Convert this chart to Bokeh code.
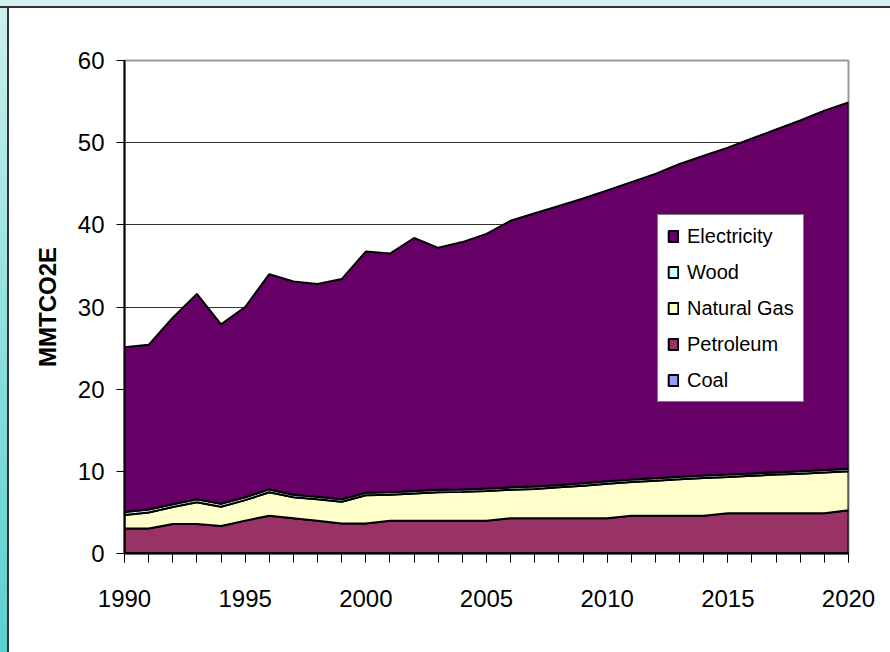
import numpy as np
from bokeh.plotting import figure
from bokeh.models import FixedTicker, Legend, LegendItem, GlobalInlineStyleSheet, Range1d
from bokeh.embed import file_html
from bokeh.resources import INLINE

years = list(range(1990, 2021))
coal = [0.05] * 31
petroleum = [3.0, 3.0, 3.55, 3.55, 3.3, 3.95, 4.55, 4.25, 3.95, 3.6, 3.6, 3.95, 3.95, 3.95, 3.95,
             3.95, 4.25, 4.25, 4.25, 4.25, 4.25, 4.55, 4.55, 4.55, 4.55, 4.85, 4.85, 4.85, 4.85, 4.85, 5.2]
natural_gas = [1.65, 1.95, 2.05, 2.65, 2.35, 2.5, 2.85, 2.55, 2.6, 2.65, 3.45, 3.15, 3.3, 3.45, 3.5,
               3.6, 3.45, 3.55, 3.75, 3.95, 4.2, 4.1, 4.25, 4.45, 4.6, 4.4, 4.55, 4.7, 4.8, 4.95, 4.75]
wood = [0.35, 0.35, 0.35, 0.35, 0.35, 0.35, 0.35, 0.3, 0.3, 0.3, 0.3, 0.3, 0.3, 0.3, 0.3,
        0.3, 0.3, 0.3, 0.3, 0.3, 0.3, 0.3, 0.3, 0.3, 0.3, 0.3, 0.3, 0.3, 0.3, 0.3, 0.3]
electricity = [20.05, 20.05, 22.7, 25.0, 21.85, 23.15, 26.2, 25.95, 25.9, 26.8, 29.35, 29.05, 30.8, 29.45, 30.1,
               31.0, 32.45, 33.25, 33.95, 34.65, 35.4, 36.2, 37.05, 38.05, 38.9, 39.8, 40.75, 41.7, 42.7, 43.75, 44.6]
y_ticks = [0, 10, 20, 30, 40, 50, 60]
x_ticks = [1990, 1995, 2000, 2005, 2010, 2015, 2020]

series = [("Coal", coal, "#9999FF"), ("Petroleum", petroleum, "#993366"),
          ("Natural Gas", natural_gas, "#FFFFCC"), ("Wood", wood, "#CCFFFF"),
          ("Electricity", electricity, "#660066")]

FONT = "Liberation Sans"

p = figure(width=881, height=644, output_backend="svg", toolbar_location=None,
           x_range=Range1d(1990, 2020), y_range=Range1d(0, 60),
           min_border_left=115, min_border_right=42, min_border_top=52, min_border_bottom=99)
p.background_fill_color = "white"
p.border_fill_color = "white"
p.outline_line_color = "#999999"
p.outline_line_width = 2

renderers = {}
base = np.zeros(len(years))
for name, vals, color in series:
    top = base + np.array(vals)
    xs = years + years[::-1]
    ys = list(top) + list(base[::-1])
    r = p.patch(xs, ys, fill_color=color, line_color="black", line_width=2)
    renderers[name] = r
    base = top

p.xgrid.visible = False
p.ygrid.grid_line_color = "#333333"
p.ygrid.grid_line_width = 1
p.ygrid.level = "underlay"

p.yaxis.ticker = FixedTicker(ticks=y_ticks)
p.xaxis.ticker = FixedTicker(ticks=x_ticks, minor_ticks=years)

for ax in (p.xaxis[0], p.yaxis[0]):
    ax.axis_line_color = "black"
    ax.axis_line_width = 2
    ax.major_tick_line_color = "black"
    ax.minor_tick_line_color = "black"
    ax.major_tick_in = 0
    ax.minor_tick_in = 0
    ax.major_label_text_font = FONT
    ax.major_label_text_font_size = "24px"
    ax.major_label_text_color = "black"

p.xaxis.major_tick_out = 9
p.xaxis.minor_tick_out = 9
p.xaxis.major_label_standoff = 27
p.yaxis.major_tick_out = 8
p.yaxis.minor_tick_line_color = None
p.yaxis.major_label_standoff = 12

p.yaxis.axis_label = "MMTCO2E"
p.yaxis.axis_label_text_font = "Liberation Sans"
p.yaxis.axis_label_text_font_style = "bold"
p.yaxis.axis_label_text_font_size = "24px"
p.yaxis.axis_label_text_color = "black"
p.yaxis.axis_label_standoff = 14

items = [LegendItem(label=name, renderers=[renderers[name]])
         for name in ["Electricity", "Wood", "Natural Gas", "Petroleum", "Coal"]]
legend = Legend(items=items, location=(533, 151))
legend.label_text_font = FONT
legend.label_text_font_size = "20px"
legend.label_text_color = "black"
legend.glyph_width = 12
legend.glyph_height = 14
legend.label_height = 24
legend.label_standoff = 8
legend.spacing = 12
legend.padding = 9
legend.margin = 0
legend.border_line_color = "black"
legend.border_line_width = 1
legend.background_fill_color = "white"
legend.background_fill_alpha = 1
p.add_layout(legend, "center")

css = """
html {
  background-color: #ffffff !important;
  background-image:
    linear-gradient(to bottom, #d3f1ef 0px, #d3f1ef 6px, #333333 6px, #333333 8px, transparent 8px),
    linear-gradient(to right, transparent 7px, #333333 7px, #333333 9px, transparent 9px),
    linear-gradient(to bottom, #cdf0ee 0%, #8fe0de 50%, #5ccfd0 100%) !important;
  background-size: 100% 100%, 100% 100%, 7px 100% !important;
  background-repeat: no-repeat !important;
  background-position: 0 0, 0 6px, 0 0 !important;
}
body {
  background: transparent !important;
  padding: 8px 0 0 9px !important;
  margin: 0 !important;
  box-sizing: border-box !important;
  overflow: hidden !important;
}
"""
p.stylesheets = [GlobalInlineStyleSheet(css=css)]

open("out.html", "w").write(file_html(p, INLINE))
